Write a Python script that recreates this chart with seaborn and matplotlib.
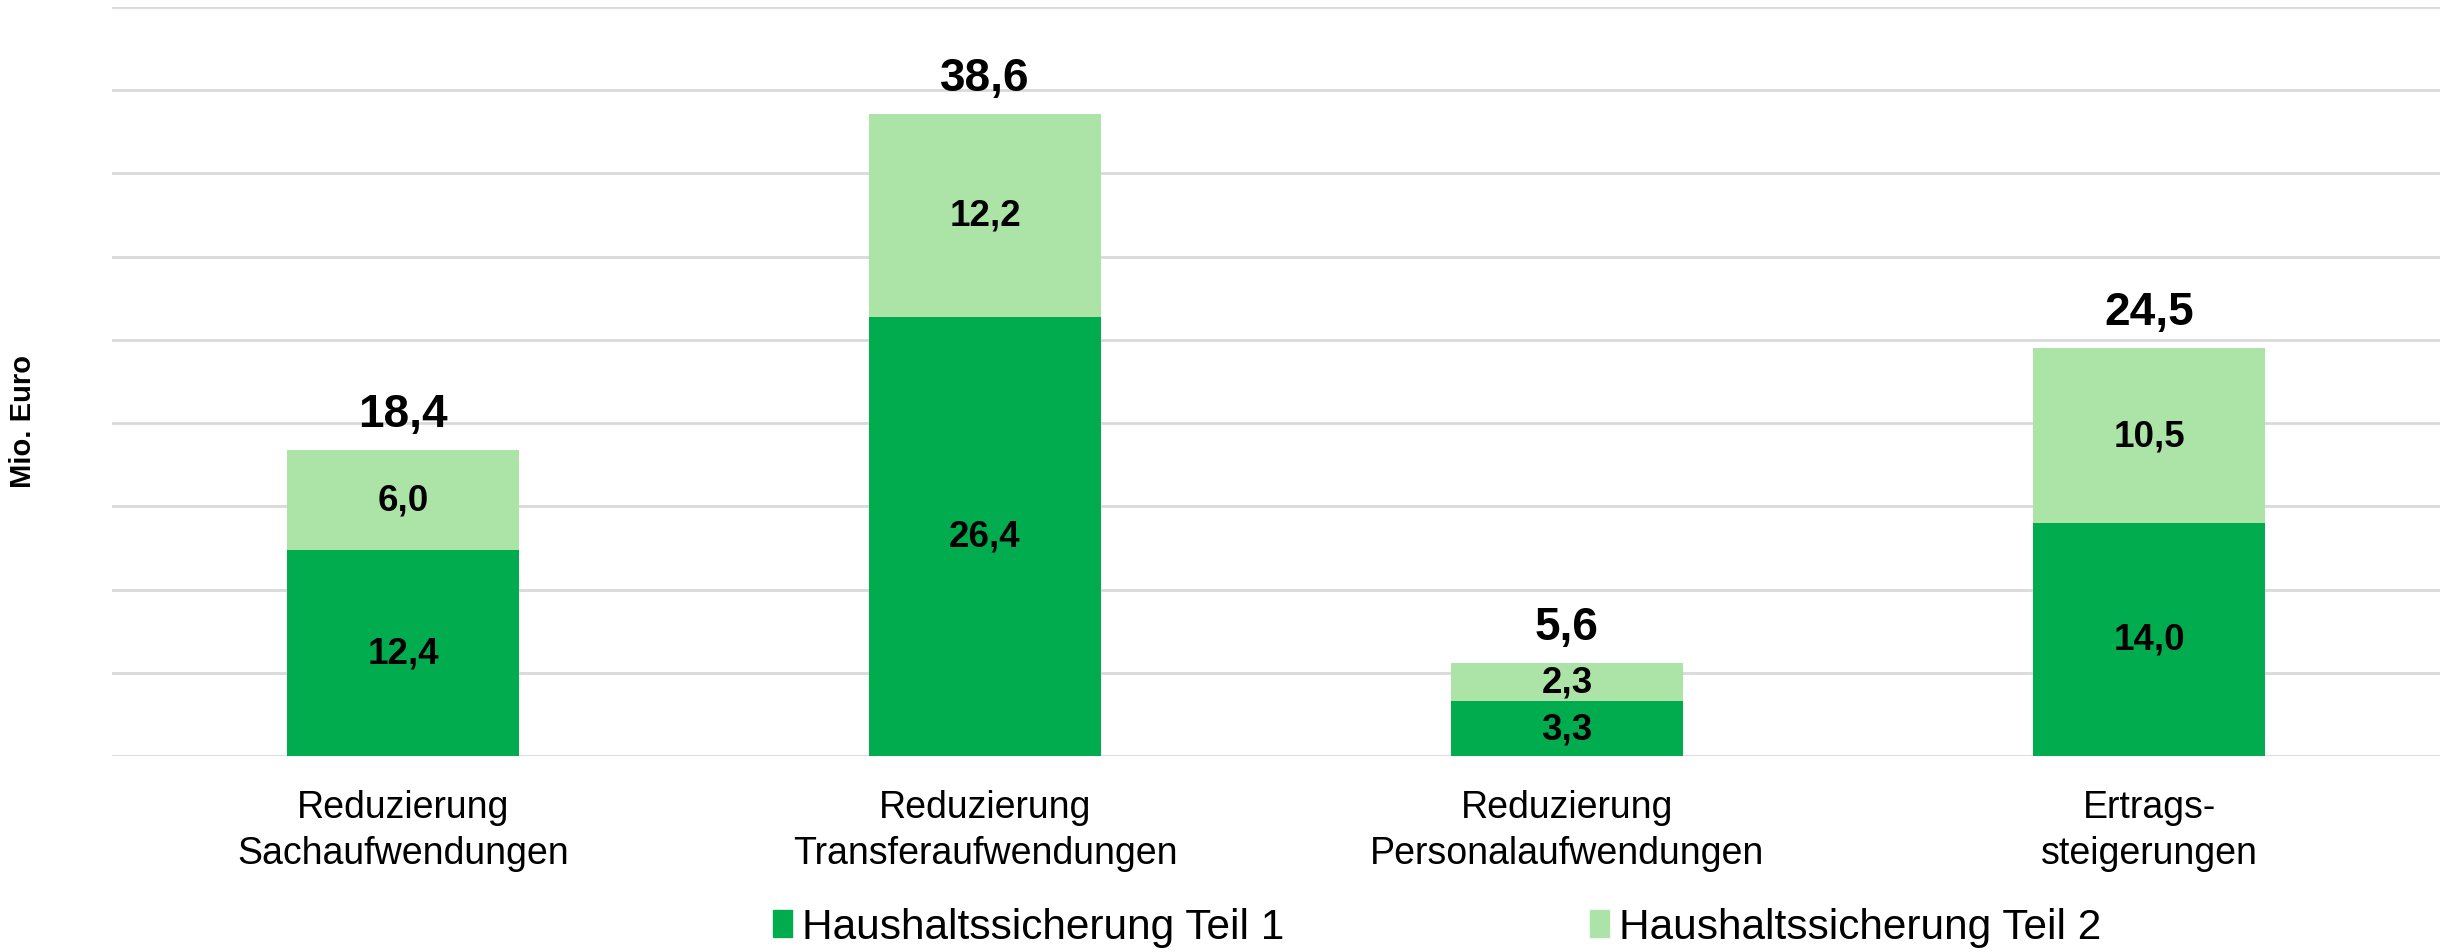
import matplotlib
matplotlib.use("Agg")
import matplotlib.pyplot as plt
import seaborn as sns
import pandas as pd

# Values (Mio. Euro)
categories = ["Reduzierung\nSachaufwendungen", "Reduzierung\nTransferaufwendungen",
              "Reduzierung\nPersonalaufwendungen", "Ertrags-\nsteigerungen"]
teil1 = [12.4, 26.4, 3.3, 14.0]
teil2 = [6.0, 12.2, 2.3, 10.5]
totals = [18.4, 38.6, 5.6, 24.5]
series_names = ["Haushaltssicherung Teil 1", "Haushaltssicherung Teil 2"]

dark_green = "#00AC4E"
light_green = "#ACE4A8"
grid_col = "#D9D9D9"

sns.set_theme(style="white")
plt.rcParams["font.family"] = ["Liberation Sans", "DejaVu Sans"]
plt.rcParams["text.color"] = "black"
plt.rcParams["xtick.color"] = "black"

df = pd.DataFrame({"cat": categories, "teil1": teil1, "teil2": teil2, "total": totals})

fig, ax = plt.subplots(figsize=(24.48, 9.53), dpi=100)
fig.subplots_adjust(left=112 / 2448, right=2440 / 2448, top=1 - 8 / 953, bottom=1 - 757 / 953)

# stacked: full height in light green, lower part in dark green over it
sns.barplot(data=df, x="cat", y="total", color=light_green, width=0.4,
            saturation=1, ax=ax, zorder=3)
sns.barplot(data=df, x="cat", y="teil1", color=dark_green, width=0.4,
            saturation=1, ax=ax, zorder=3)
for p in ax.patches:
    p.set_edgecolor("none")

ax.set_ylim(0, 45)
ax.set_xlim(-0.5, 3.5)
ax.set_yticks(range(0, 50, 5))
ax.set_yticklabels([])
ax.tick_params(axis="y", length=0)
ax.tick_params(axis="x", length=0, pad=24, labelsize=27, labelcolor="black")
for lbl in ax.get_xticklabels():
    lbl.set_linespacing(1.35)
ax.yaxis.grid(True, color=grid_col, linewidth=2)
ax.set_axisbelow(True)
for s in ax.spines.values():
    s.set_visible(False)
ax.set_xlabel("")
ax.set_ylabel("")

fmt = lambda v: f"{v:.1f}".replace(".", ",")

for i in range(len(categories)):
    ax.text(i, teil1[i] / 2, fmt(teil1[i]), ha="center", va="center",
            fontsize=26.5, fontweight="bold", zorder=5)
    ax.text(i, teil1[i] + teil2[i] / 2, fmt(teil2[i]), ha="center", va="center",
            fontsize=26.5, fontweight="bold", zorder=5)
    ax.annotate(fmt(totals[i]), (i, totals[i]), xytext=(0, 10), textcoords="offset points",
                ha="center", va="bottom", fontsize=33, fontweight="bold")

fig.text(23 / 2448, 1 - 421 / 953, "Mio. Euro", rotation=90, ha="center", va="center",
         fontsize=21, fontweight="bold")

handles = [plt.Rectangle((0, 0), 1, 1, color=dark_green),
           plt.Rectangle((0, 0), 1, 1, color=light_green)]
fig.legend(handles, series_names, loc="center", bbox_to_anchor=(0.587, 0.026), ncol=2,
           frameon=False, fontsize=30.5, handlelength=0.45, handleheight=0.6,
           handletextpad=0.25, columnspacing=7.2)

fig.savefig("out.png", dpi=100)
